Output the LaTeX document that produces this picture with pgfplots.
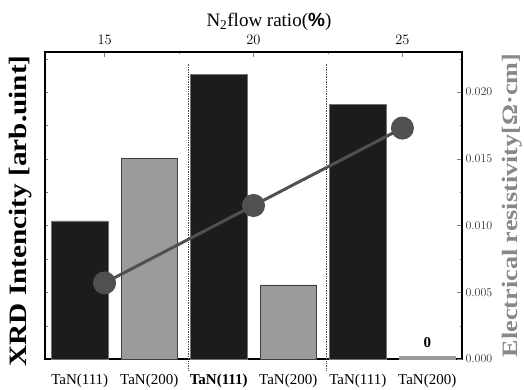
\documentclass[border=0pt]{standalone}
\usepackage{pgfplots}
\pgfplotsset{compat=1.18}
\usepackage{fontspec}
\setmainfont{Liberation Serif}
\newfontfamily\sansfont{Liberation Sans}
\definecolor{barblack}{HTML}{1C1C1C}
\definecolor{bargray}{HTML}{9B9B9B}
\definecolor{linegray}{HTML}{505050}
\definecolor{labelgray}{HTML}{888888}
\begin{document}
\begin{tikzpicture}
\begin{axis}[
  scale only axis, width=417pt, height=307pt, at={(0,0)}, anchor=south west,
  xmin=-0.5, xmax=5.5, ymin=0, ymax=2300,
  xtick={0,1,2,3,4,5},
  xticklabels={TaN(111),TaN(200),\textbf{TaN(111)},TaN(200),TaN(111),TaN(200)},
  xtick pos=bottom, major x tick style={draw=none},
  xticklabel style={font=\fontsize{15}{18}\selectfont, yshift=-12pt},
  ytick={0,250,500,750,1000,1250,1500,1750,2000,2250}, yticklabels={}, ytick pos=left,
  tick align=inside, major tick length=3pt,
  axis line style={line width=1.2pt},
  ylabel={\scalebox{1.17}[1]{\textbf{XRD Intencity [arb.uint]}}},
  ylabel style={font=\fontsize{25}{30}\selectfont, at={(axis description cs:-0.031,0.482)}, anchor=south, inner sep=0pt},
  clip=false,
]
\addplot[ybar, bar width=0.81, bar shift=0pt, fill=barblack, draw=black!55] coordinates {(0,1035)(2,2130)(4,1910)};
\addplot[ybar, bar width=0.81, bar shift=0pt, fill=bargray, draw=black!75] coordinates {(1,1505)(3,555)};
\addplot[ybar, bar width=0.81, bar shift=0pt, fill=bargray, draw=bargray] coordinates {(5,20)};
\draw[densely dotted, line width=0.7pt, black!70] (axis cs:1.56,-85) -- (axis cs:1.56,2215);
\draw[densely dotted, line width=0.7pt, black!70] (axis cs:3.55,-85) -- (axis cs:3.55,2215);
\node[font=\bfseries\fontsize{15}{18}\selectfont] at (axis cs:5,120) {0};
\end{axis}
\begin{axis}[
  scale only axis, width=417pt, height=307pt, at={(0,0)}, anchor=south west,
  xmin=13, xmax=27, ymin=0, ymax=0.023,
  axis x line*=top, axis y line*=right,
  axis line style={line width=1.2pt},
  xtick={15,20,25}, minor xtick={17.5,22.5},
  ytick={0,0.005,0.010,0.015,0.020},
  minor ytick={0.0025,0.0075,0.0125,0.0175,0.0225},
  tick align=inside, major tick length=5pt, minor tick length=2.5pt,
  scaled y ticks=false,
  yticklabel style={/pgf/number format/.cd, fixed, fixed zerofill, precision=3, /tikz/.cd, font=\fontsize{12}{14}\selectfont, text=black!80},
  xticklabel style={font=\fontsize{15}{18}\selectfont, yshift=4pt},
  ylabel={\scalebox{1.19}[1]{\textbf{Electrical resistivity[Ω·cm]}}},
  ylabel style={font=\fontsize{22}{26}\selectfont, text=labelgray, at={(axis description cs:1.096,0.5)}, anchor=north, inner sep=0pt, rotate=0},
  clip=false,
]
\addplot[linegray, line width=3pt, mark=*, mark size=10pt, mark options={fill=linegray, draw=linegray}] coordinates {(15,0.0057)(20,0.0115)(25,0.0173)};
\node[anchor=base, yshift=25pt, font=\fontsize{19}{22}\selectfont] at (axis description cs:0.537,1) {N\textsubscript{2}flow ratio({\sansfont\bfseries\%})};
\end{axis}
\pgfresetboundingbox
\path[use as bounding box] (-45pt,-31pt) rectangle (479pt,359pt);
\end{tikzpicture}
\end{document}
